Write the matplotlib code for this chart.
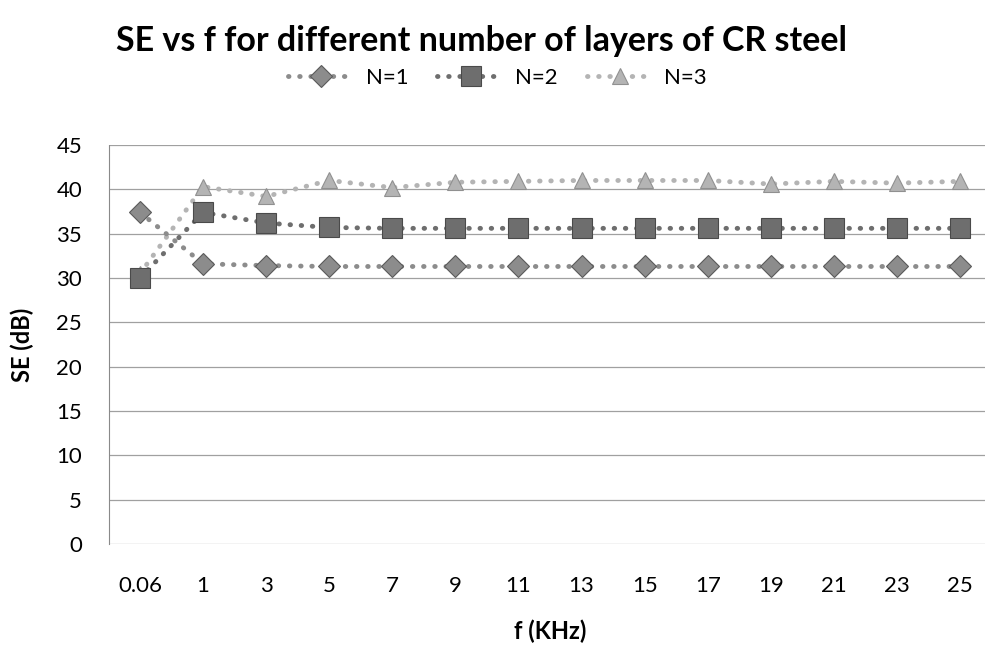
import matplotlib.pyplot as plt
import numpy as np

# ---- Data ----
freqs = ["0.06", "1", "3", "5", "7", "9", "11", "13", "15", "17", "19", "21", "23", "25"]
se_n1 = [37.4, 31.6, 31.4, 31.3, 31.3, 31.3, 31.3, 31.3, 31.3, 31.3, 31.3, 31.3, 31.3, 31.3]
se_n2 = [30.0, 37.4, 36.2, 35.7, 35.6, 35.6, 35.6, 35.6, 35.6, 35.6, 35.6, 35.6, 35.6, 35.6]
se_n3 = [30.5, 40.3, 39.2, 41.0, 40.2, 40.8, 40.9, 41.0, 41.0, 41.0, 40.6, 40.9, 40.7, 40.9]

plt.rcParams['font.family'] = ['Lato', 'DejaVu Sans']

fig = plt.figure(figsize=(9.85, 6.5), dpi=100)
# plot area runs a bit past the right edge, as in the scan
ax = fig.add_axes([108.5 / 985, 1 - 544 / 650, 883 / 985, 399 / 650])

x = np.arange(len(freqs))
dots = (0, (0.1, 2.2))
ax.plot(x, se_n1, color='#8c8c8c', marker='D', markersize=11, markeredgecolor='#5a5a5a',
        markeredgewidth=0.8, linestyle=dots, linewidth=3.5, dash_capstyle='round',
        label='N=1', zorder=4)
ax.plot(x, se_n2, color='#6e6e6e', marker='s', markersize=14, markeredgecolor='#4a4a4a',
        markeredgewidth=0.8, linestyle=dots, linewidth=3.5, dash_capstyle='round',
        label='N=2', zorder=4)
ax.plot(x, se_n3, color='#b4b4b4', marker='^', markersize=12, markeredgecolor='#909090',
        markeredgewidth=0.8, linestyle=dots, linewidth=3.5, dash_capstyle='round',
        label='N=3', zorder=3)

ax.set_xlim(-0.5, len(freqs) - 0.5)
ax.set_ylim(0, 45)
ax.set_yticks(range(0, 46, 5))
ax.set_xticks(x)
ax.set_xticklabels(freqs)
ax.tick_params(axis='both', length=0, labelsize=16)
ax.tick_params(axis='x', pad=23)
ax.tick_params(axis='y', pad=19)

ax.grid(axis='y', color='#a0a0a0', linewidth=0.9)
ax.set_axisbelow(True)
for side in ['top', 'right', 'bottom']:
    ax.spines[side].set_visible(False)
ax.spines['left'].set_color('#8a8a8a')
ax.spines['left'].set_linestyle((0, (2, 1)))

ax.set_xlabel('f (KHz)', fontsize=17, fontweight='bold', labelpad=17)
ax.set_ylabel('SE (dB)', fontsize=17, fontweight='bold', labelpad=16)

fig.suptitle('SE vs f for different number of layers of CR steel',
             fontsize=24.5, fontweight='bold', x=0.489, y=0.961)
fig.legend(loc='center', bbox_to_anchor=(0.505, 1 - 78 / 650), ncol=3, frameon=False,
           fontsize=16, handlelength=3.0, handletextpad=0.5, columnspacing=1.3)

fig.savefig('out.png', dpi=100)
